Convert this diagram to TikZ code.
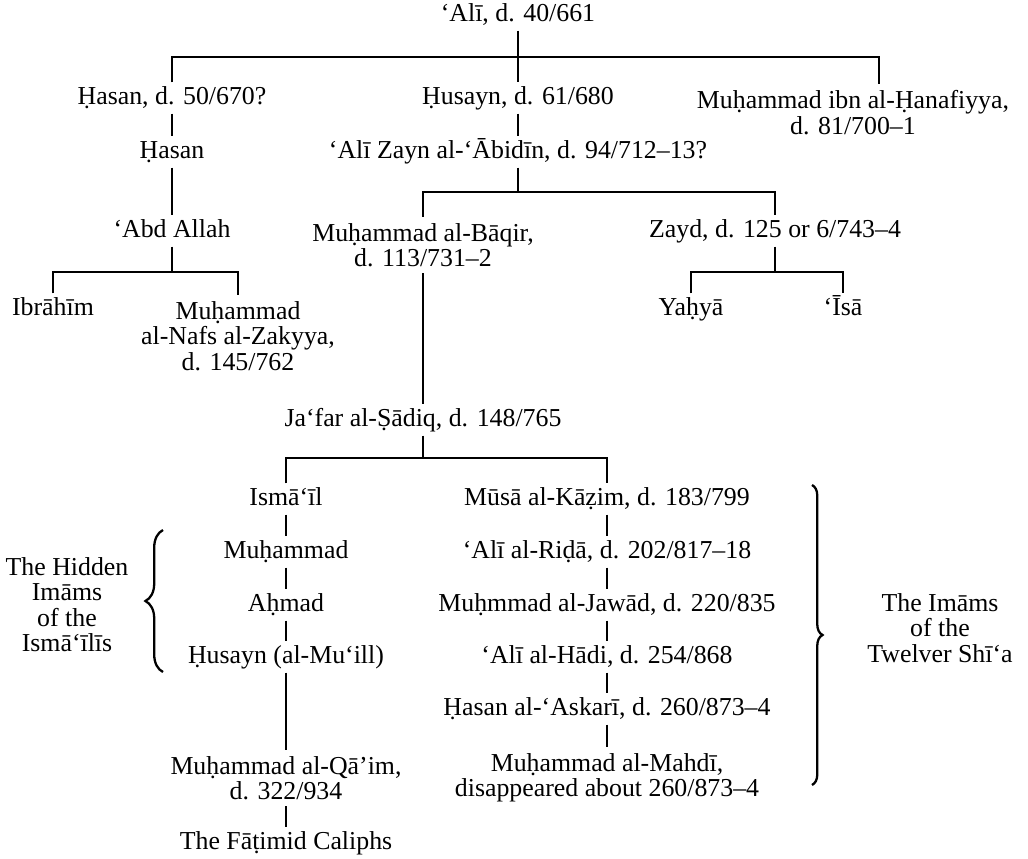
\documentclass[tikz,border=0pt]{standalone}
\usepackage{fontspec}
\setmainfont{Liberation Serif}
\usepackage{tikz}
\usetikzlibrary{decorations.pathreplacing}
\tikzset{every picture/.style={/utils/exec={\fontsize{14.7}{14.5}\selectfont}}}
\tikzset{person/.style={text height=0.64em, text depth=0.1em}}

\begin{document}
\begin{tikzpicture}[line width=1pt, every node/.style={align=center, inner sep=3pt}]
        \useasboundingbox (0, 0) rectangle (20.56, 17.16);
        % Nodes
        \node[person] (ali) at (10.36, 16.86) {‘Alī, d. 40/661};
        \node[person] (hasanA) at (3.44, 15.20) {Ḥasan, d. 50/670?};
        \node[person] (husayn) at (10.36, 15.20) {Ḥusayn, d. 61/680};
        \node (hanafiyya) at (17.06, 14.91) {Muḥammad ibn al-Ḥanafiyya,\\ d. 81/700–1};
        \node[person] (hasanB) at (3.44, 14.12) {Ḥasan};
        \node[person] (zayn) at (10.36, 14.12) {‘Alī Zayn al-‘Ābidīn, d. 94/712–13?};
        \node[person] (abd) at (3.44, 12.54) {‘Abd Allah};
        \node (baqir) at (8.46, 12.26) {Muḥammad al-Bāqir,\\ d. 113/731–2};
        \node[person] (zayd) at (15.50, 12.54) {Zayd, d. 125 or 6/743–4};
        \node[person] (ibrahim) at (1.06, 10.98) {Ibrāhīm};
        \node (nafs) at (4.76, 10.44) {Muḥammad\\ al-Nafs al-Zakyya,\\ d. 145/762};
        \node[person] (yahya) at (13.82, 10.98) {Yaḥyā};
        \node[person] (isa) at (16.86, 10.98) {‘Īsā};
        \node[person] (jafar) at (8.46, 8.76) {Ja‘far al-Ṣādiq, d. 148/765};

        \node[person] (ismail) at (5.72, 7.18) {Ismā‘īl};
        \node[person] (muhammadH) at (5.72, 6.12) {Muḥammad};
        \node[person] (ahmad) at (5.72, 5.06) {Aḥmad};
        \node[person] (husaynM) at (5.72, 4.02) {Ḥusayn (al-Mu‘ill)};
        \node (qaim) at (5.72, 1.60) {Muḥammad al-Qā’im,\\ d. 322/934};
        \node[person] (fatimid) at (5.72, 0.30) {The Fāṭimid Caliphs};

        \node[person] (musa) at (12.14, 7.18) {Mūsā al-Kāẓim, d. 183/799};
        \node[person] (rida) at (12.14, 6.12) {‘Alī al-Riḍā, d. 202/817–18};
        \node[person] (jawad) at (12.14, 5.06) {Muḥmmad al-Jawād, d. 220/835};
        \node[person] (hadi) at (12.14, 4.02) {‘Alī al-Hādi, d. 254/868};
        \node[person] (askari) at (12.14, 2.98) {Ḥasan al-‘Askarī, d. 260/873–4};
        \node (mahdi) at (12.14, 1.60) {Muḥammad al-Mahdī,\\ disappeared about 260/873–4};

        \node (hidden) at (1.34, 5.07) {The Hidden\\ Imāms\\ of the\\ Ismā‘īlīs};
        \node (twelver) at (18.80, 4.60) {The Imāms\\ of the\\ Twelver Shī‘a};

        % Bars
        \coordinate (bar1) at (10.36, 16.02);
        \coordinate (bar2) at (10.36, 13.32);
        \coordinate (bar3) at (3.44, 11.72);
        \coordinate (bar4) at (15.50, 11.72);
        \coordinate (bar5) at (8.46, 8.00);

        % Lines of descent
        \draw (ali) -- (husayn);
        \draw (hasanA.north) |- (bar1) -| ([xshift=0.52cm]hanafiyya.north);
        \draw (hasanA) -- (hasanB);
        \draw (hasanB) -- (abd);
        \draw (abd) -- (bar3);
        \draw (ibrahim.north) |- (bar3) -| (nafs.north);
        \draw (husayn) -- (zayn);
        \draw (zayn) -- (bar2);
        \draw (baqir.north) |- (bar2) -| (zayd.north);
        \draw (zayd) -- (bar4);
        \draw (yahya.north) |- (bar4) -| (isa.north);
        \draw (baqir) -- (jafar);
        \draw (jafar) -- (bar5);
        \draw (ismail.north) |- (bar5) -| (musa.north);
        \draw (ismail) -- (muhammadH);
        \draw (muhammadH) -- (ahmad);
        \draw (ahmad) -- (husaynM);
        \draw (husaynM) -- (qaim);
        \draw (qaim) -- (fatimid);
        \draw (musa) -- (rida);
        \draw (rida) -- (jawad);
        \draw (jawad) -- (hadi);
        \draw (hadi) -- (askari);
        \draw (askari) -- (mahdi);

        % Braces
        \draw[decorate, decoration={brace, amplitude=10pt}, line width=1.3pt] (3.26, 3.72) -- (3.26, 6.56);
        \draw[decorate, decoration={brace, amplitude=6pt}, line width=1.3pt] (16.24, 7.46) -- (16.24, 1.46);
    \end{tikzpicture}
\end{document}
